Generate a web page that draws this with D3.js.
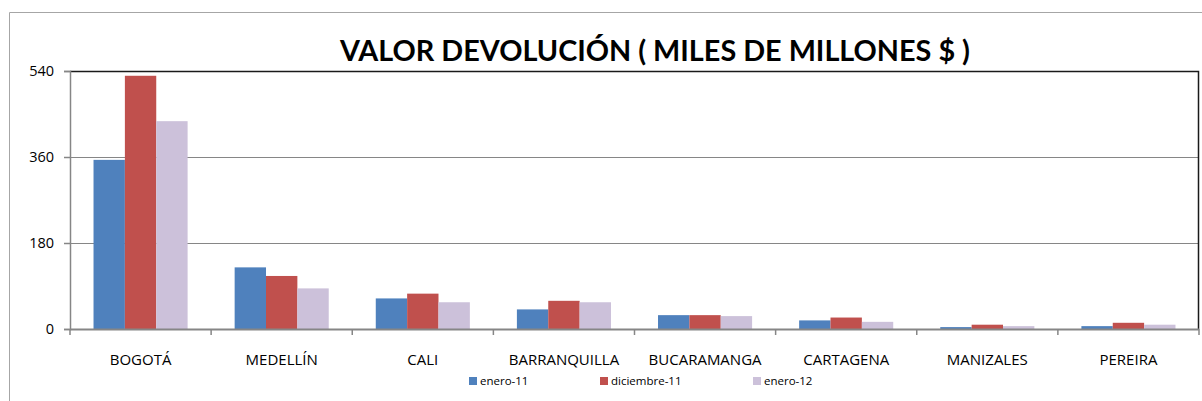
<!DOCTYPE html>
<html>
<head>
<meta charset="utf-8">
<script src="https://cdn.jsdelivr.net/npm/d3@7"></script>
<style>
  body { margin: 0; background: #fff; }
  svg { display: block; font-family: "Open Sans", "DejaVu Sans", sans-serif; }
</style>
</head>
<body>
<svg width="1202" height="401"></svg>
<script>
// chart data
const cities = ["BOGOTÁ", "MEDELLÍN", "CALI", "BARRANQUILLA", "BUCARAMANGA", "CARTAGENA", "MANIZALES", "PEREIRA"];
const series = ["enero-11", "diciembre-11", "enero-12"];
const enero11 = [354, 129, 64, 41, 29, 18, 4, 6];
const diciembre11 = [530, 111, 74, 59, 29, 24, 9, 13];
const enero12 = [435, 85, 56, 56, 27, 15, 6, 9];
const yTicks = [0, 180, 360, 540];
const colors = ["#4F81BD", "#C0504D", "#CCC1DA"];

const values = [enero11, diciembre11, enero12];
const data = cities.map((c, i) => ({ city: c, vals: series.map((s, j) => ({ key: s, v: values[j][i] })) }));

// Set dimensions
const margin = { top: 71, right: 3, bottom: 72, left: 70 };
const width = 1202 - margin.left - margin.right;
const height = 401 - margin.top - margin.bottom;

const root = d3.select("svg");

// outer chart border (left + top)
root.append("path")
    .attr("d", "M9.5,401 V12.5 H1202")
    .attr("fill", "none")
    .attr("stroke", "#a6a6a6")
    .attr("stroke-width", 1);

// title
root.append("text")
    .attr("x", 655)
    .attr("y", 61)
    .attr("text-anchor", "middle")
    .attr("font-size", 28)
    .attr("font-weight", "bold")
    .attr("font-family", "Lato, 'Open Sans', sans-serif")
    .attr("textLength", 630)
    .attr("lengthAdjust", "spacingAndGlyphs")
    .attr("fill", "#000")
    .text("VALOR DEVOLUCIÓN ( MILES DE MILLONES $ )");

const svg = root.append("g")
    .attr("transform", `translate(${margin.left},${margin.top})`);

// group = 3 bars, gap between groups = 150% of a bar
const x0 = d3.scaleBand()
    .domain(cities)
    .range([0, width]);
const step = x0.step();
const barW = step / 4.5;
const x1 = d3.scaleBand()
    .domain(series)
    .range([0, barW * 3]);

const y = d3.scaleLinear()
    .domain([0, 540])
    .range([height, 0]);

// gridlines
svg.selectAll(".grid")
    .data(yTicks.filter(t => t > 0 && t < 540))
    .enter()
    .append("line")
    .attr("x1", 0)
    .attr("x2", width)
    .attr("y1", d => Math.round(y(d)) + 0.5)
    .attr("y2", d => Math.round(y(d)) + 0.5)
    .attr("stroke", "#868686")
    .attr("stroke-width", 1);

// bars
const groups = svg.selectAll(".group")
    .data(data)
    .enter()
    .append("g")
    .attr("transform", d => `translate(${x0(d.city) + barW * 0.75},0)`);

groups.selectAll("rect")
    .data(d => d.vals)
    .enter()
    .append("rect")
    .attr("x", d => x1(d.key))
    .attr("y", d => y(d.v))
    .attr("width", x1.bandwidth())
    .attr("height", d => height - y(d.v))
    .attr("fill", (d, i) => colors[i]);

// plot border top + right (dark)
svg.append("path")
    .attr("d", `M0,0.5 H${width - 0.5} V${height}`)
    .attr("fill", "none")
    .attr("stroke", "#1a1a1a")
    .attr("stroke-width", 1.5);

// y axis
const yAxis = d3.axisLeft(y).tickValues(yTicks).tickSize(6).tickPadding(10);
const gy = svg.append("g").call(yAxis);
gy.select(".domain").attr("stroke", "#868686").attr("stroke-width", 1.5);
gy.selectAll(".tick line").attr("stroke", "#868686").attr("stroke-width", 1.5);
gy.selectAll(".tick text")
    .attr("font-size", 14.5)
    .attr("font-family", "Open Sans, sans-serif")
    .attr("fill", "#000");

// x axis line + ticks
const xTicks = d3.range(cities.length + 1).map(i => i * step);
svg.append("line")
    .attr("x1", 0).attr("x2", width)
    .attr("y1", height + 0.5).attr("y2", height + 0.5)
    .attr("stroke", "#868686").attr("stroke-width", 2);
svg.selectAll(".xtick")
    .data(xTicks)
    .enter()
    .append("line")
    .attr("x1", d => d).attr("x2", d => d)
    .attr("y1", height).attr("y2", height + 6)
    .attr("stroke", "#868686").attr("stroke-width", 1.5);

svg.selectAll(".xlabel")
    .data(cities)
    .enter()
    .append("text")
    .attr("x", d => x0(d) + step / 2)
    .attr("y", height + 36)
    .attr("text-anchor", "middle")
    .attr("font-size", 15)
    .attr("fill", "#000")
    .text(d => d);

// legend
const legendX = [469, 600, 753];
const legend = root.append("g");
series.forEach((s, i) => {
    legend.append("rect")
        .attr("x", legendX[i])
        .attr("y", 377)
        .attr("width", 8)
        .attr("height", 8)
        .attr("fill", colors[i]);
    legend.append("text")
        .attr("x", legendX[i] + 11)
        .attr("y", 385)
        .attr("font-size", 11.5)
        .attr("fill", "#000")
        .text(s);
});
</script>
</body>
</html>
